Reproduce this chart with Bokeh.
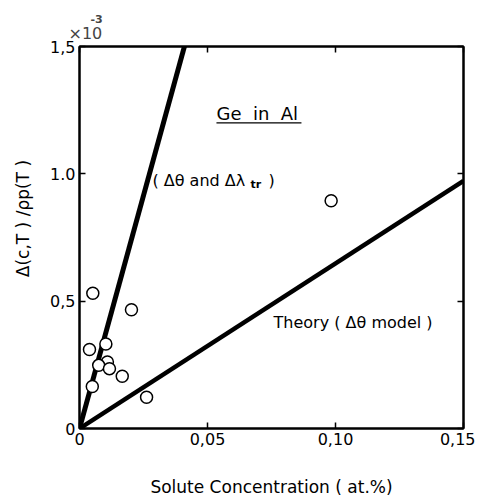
from bokeh.plotting import figure
from bokeh.models import Range1d, LinearAxis, Label, FixedTicker, Title
from bokeh.embed import file_html
from bokeh.resources import INLINE

# measured data: solute concentration (at.%) vs Delta(c,T)/rho_p(T)
conc = [0.0052, 0.0203, 0.0103, 0.0039, 0.0109, 0.0075, 0.0117, 0.0167, 0.0050, 0.0262, 0.0983]
ratio = [0.531e-3, 0.466e-3, 0.332e-3, 0.310e-3, 0.261e-3, 0.248e-3, 0.235e-3, 0.205e-3, 0.165e-3, 0.123e-3, 0.894e-3]

# model lines (slopes)
slope_both = 0.0366     # (Δθ and Δλtr)
slope_theory = 0.00648  # Theory (Δθ model)
line_x = [0.0, 0.15]

x_ticks = [0.0, 0.05, 0.10, 0.15]
x_tick_labels = ["0", "0,05", "0,10", "0,15"]
y_ticks = [0.0, 0.5e-3, 1.0e-3, 1.5e-3]
y_tick_labels = ["0", "0,5", "1.0", "1,5"]

FONT = "DejaVu Sans"

p = figure(width=475, height=500, output_backend="svg", toolbar_location=None,
           x_range=Range1d(0, 0.15), y_range=Range1d(0, 1.5e-3),
           min_border_left=79, min_border_right=12, min_border_top=46, min_border_bottom=72)
p.grid.visible = False
p.outline_line_color = "black"
p.outline_line_width = 2

for ax, ticks, labels in [(p.xaxis[0], x_ticks, x_tick_labels), (p.yaxis[0], y_ticks, y_tick_labels)]:
    ax.ticker = FixedTicker(ticks=ticks)
    ax.major_label_overrides = {t: l for t, l in zip(ticks, labels)}
    ax.major_tick_in = 6
    ax.major_tick_out = 0
    ax.minor_tick_in = 0
    ax.minor_tick_out = 0
    ax.axis_line_width = 2
    ax.major_tick_line_width = 1.5
    ax.major_label_text_font = FONT
    ax.major_label_text_font_size = "16px"
    ax.major_label_text_color = "black"
    ax.major_label_standoff = 4
    ax.axis_label_text_font = FONT
    ax.axis_label_text_font_size = "17px"
    ax.axis_label_text_font_style = "normal"
    ax.axis_label_text_color = "black"

p.xaxis[0].axis_label = "Solute Concentration ( at.%)"
p.xaxis[0].axis_label_standoff = 29
p.yaxis[0].axis_label = "\u00a0" * 7 + "Δ(c,T ) /ρp(T )"
p.yaxis[0].axis_label_standoff = 14

for loc, ticks in [("above", x_ticks), ("right", y_ticks)]:
    ax = LinearAxis(ticker=FixedTicker(ticks=ticks))
    ax.major_label_overrides = {t: "" for t in ticks}
    ax.major_tick_in = 6
    ax.major_tick_out = 0
    ax.minor_tick_in = 0
    ax.minor_tick_out = 0
    ax.axis_line_width = 2
    ax.major_tick_line_width = 1.5
    p.add_layout(ax, loc)

p.add_layout(Title(text="×10", align="left", offset=-11, text_font=FONT,
                   text_font_size="16px", text_font_style="normal", standoff=7), "above")
p.add_layout(Title(text="-3", align="left", offset=11, text_font=FONT,
                   text_font_size="11px", text_font_style="bold", standoff=-8), "above")

p.line(line_x, [slope_both * x for x in line_x], line_color="black", line_width=5)
p.line(line_x, [slope_theory * x for x in line_x], line_color="black", line_width=4.5)

p.scatter(conc, ratio, marker="circle", size=12, fill_color="white",
          line_color="black", line_width=1.5)

def lab(x, y, text, size="16px", **kw):
    l = Label(x=x, y=y, text=text, text_font=FONT, text_font_size=size,
              text_color="black", **kw)
    p.add_layout(l)
    return l

lab(0.0535, 1.237e-3, "Ge\u00a0 in\u00a0 Al", size="18px", text_baseline="middle")
p.line([0.0535, 0.0867], [1.2e-3, 1.2e-3], line_color="black", line_width=1.2)

lab(0.0285, 0.974e-3, "( Δθ and Δλ", size="16px", text_baseline="middle")
lab(0.0668, 0.960e-3, "tr", size="11px", text_baseline="middle", text_font_style="bold")
lab(0.0738, 0.974e-3, ")", size="16px", text_baseline="middle")

lab(0.0758, 0.416e-3, "Theory ( Δθ model )", size="16px", text_baseline="middle")

open("out.html", "w").write(file_html(p, INLINE))
